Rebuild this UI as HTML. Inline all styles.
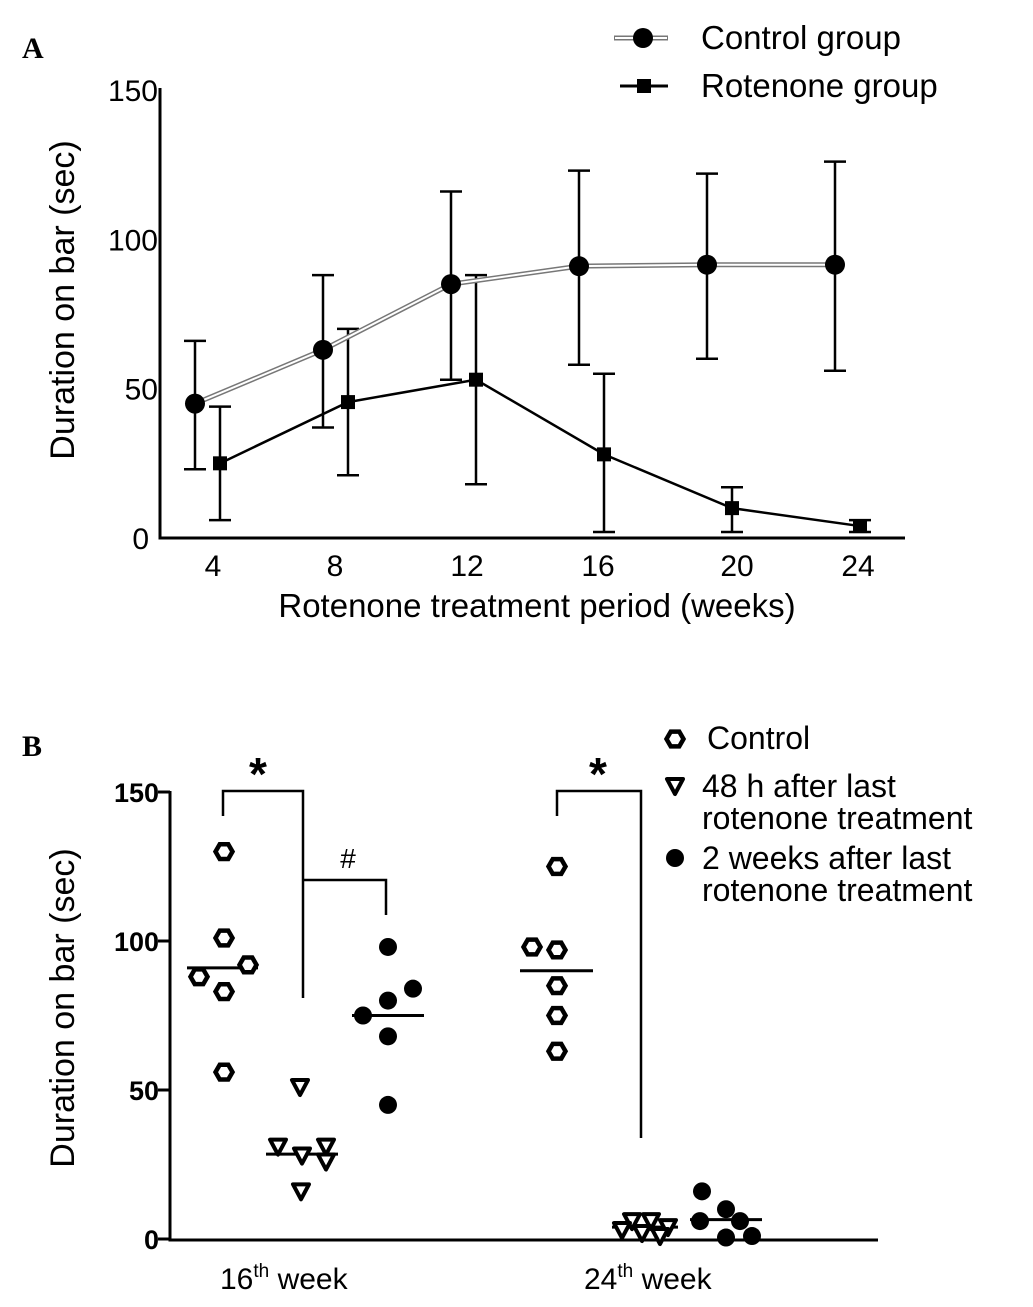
<!DOCTYPE html>
<html><head><meta charset="utf-8"><style>
body{margin:0;background:#fff}
svg{display:block;font-family:"Liberation Sans",sans-serif}
</style></head><body>
<svg id="s" width="1033" height="1307" viewBox="0 0 1033 1307">
<text x="22" y="58" font-family="Liberation Serif" font-weight="bold" font-size="30">A</text>
<text x="22" y="756" font-family="Liberation Serif" font-weight="bold" font-size="30">B</text>
<g id="a"></g>
<g id="b"></g>
</svg>
<script>
// Panel A data
const weeks=["4","8","12","16","20","24"];
const ctrlMean=[45,63,85,91,91.5,91.5];
const ctrlHi=[66,88,116,123,122,126];
const ctrlLo=[23,37,53,58,60,56];
const rotMean=[25,45.5,53,28,10,4];
const rotHi=[44,70,88,55,17,6];
const rotLo=[6,21,18,2,2,2];
const yTicksA=[0,50,100,150];
// Panel B data
const bCtrl16=[130,101,92,88,83,56];
const bTri16=[51,31,28,31,26,16];
const bDot16=[98,84,80,75,68,45];
const bCtrl24=[125,98,97,85,75,63];
const bTri24=[6,6,3,4,2,1];
const bDot24=[16,10,6,6,0.5,1];
const med16=[91,28.5,75];
const med24=[90,4,6.5];
const yTicksB=[0,50,100,150];

const NS="http://www.w3.org/2000/svg";
function mk(p,t,a){const e=document.createElementNS(NS,t);for(const k in a)e.setAttribute(k,a[k]);p.appendChild(e);return e;}
const A=document.getElementById('a'),B=document.getElementById('b');
// ---- Panel A
const yA=v=>538-v*2.987;
const xA=i=>208+128*i;
const labX=[213,335,467,598,737,858];
let e;
e=mk(A,'path',{d:'M160,88 V538 H905',fill:'none',stroke:'#000','stroke-width':3});

yTicksA.forEach(v=>{
 e=mk(A,'text',{x:v===0?149:158,y:yA(v)+11,'text-anchor':'end','font-size':30});e.textContent=v;
 
});
weeks.forEach((w,i)=>{
 e=mk(A,'text',{x:labX[i],y:576,'text-anchor':'middle','font-size':30});e.textContent=w;
 
});
e=mk(A,'text',{x:537,y:617,'text-anchor':'middle','font-size':33});e.textContent='Rotenone treatment period (weeks)';

e=mk(A,'text',{x:0,y:0,'text-anchor':'middle','font-size':34,transform:'translate(74,300) rotate(-90)'});e.textContent='Duration on bar (sec)';

function eb(g,x,lo,hi,name){
 e=mk(g,'path',{d:`M${x},${yA(lo)}V${yA(hi)}M${x-11},${yA(lo)}h22M${x-11},${yA(hi)}h22`,stroke:'#000','stroke-width':2.5,fill:'none'});
 
}
ctrlMean.forEach((v,i)=>eb(A,xA(i)-13,ctrlLo[i],ctrlHi[i],'control-error-bar'));
rotMean.forEach((v,i)=>eb(A,xA(i)+12,rotLo[i],rotHi[i],'rotenone-error-bar'));
const cp=ctrlMean.map((v,i)=>(xA(i)-13)+','+yA(v)).join(' ');
e=mk(A,'polyline',{points:cp,fill:'none',stroke:'#777','stroke-width':5});

e=mk(A,'polyline',{points:cp,fill:'none',stroke:'#fff','stroke-width':2});

const rp=rotMean.map((v,i)=>(xA(i)+12)+','+yA(v)).join(' ');
e=mk(A,'polyline',{points:rp,fill:'none',stroke:'#000','stroke-width':2.5});

ctrlMean.forEach((v,i)=>{e=mk(A,'circle',{cx:xA(i)-13,cy:yA(v),r:10,fill:'#000'});
 });
rotMean.forEach((v,i)=>{e=mk(A,'rect',{x:xA(i)+12-7,y:yA(v)-7,width:14,height:14,fill:'#000'});
 });
// legend A
e=mk(A,'line',{x1:614,x2:668,y1:38,y2:38,stroke:'#777','stroke-width':5});

e=mk(A,'line',{x1:615,x2:667,y1:38,y2:38,stroke:'#fff','stroke-width':2});

e=mk(A,'circle',{cx:643,cy:38,r:10,fill:'#000'});

e=mk(A,'text',{x:701,y:49,'font-size':33});e.textContent='Control group';

e=mk(A,'line',{x1:620,x2:668,y1:86,y2:86,stroke:'#000','stroke-width':3});

e=mk(A,'rect',{x:637,y:79,width:14,height:14,fill:'#000'});

e=mk(A,'text',{x:701,y:97,'font-size':33});e.textContent='Rotenone group';


// ---- Panel B
const yB=v=>1239-v*2.98;
e=mk(B,'path',{d:'M170,791 V1240 H878',fill:'none',stroke:'#000','stroke-width':3});

yTicksB.forEach(v=>{
 e=mk(B,'line',{x1:158,x2:170,y1:yB(v),y2:yB(v),stroke:'#000','stroke-width':3});
 
 e=mk(B,'text',{x:159,y:yB(v)+10,'text-anchor':'end','font-size':27,'font-weight':'bold'});e.textContent=v;
 
});
e=mk(B,'text',{x:0,y:0,'text-anchor':'middle','font-size':34,transform:'translate(74,1008) rotate(-90)'});e.textContent='Duration on bar (sec)';

function wk(x,n){e=mk(B,'text',{x:x,y:1289,'font-size':30});
 e.innerHTML=`${n}<tspan dy="-12" font-size="19">th</tspan><tspan dy="12"> week</tspan>`;
 }
wk(220,'16');wk(584,'24');
const hex=(g,x,y,name)=>{let p=[];for(let k=0;k<6;k++){const a=k*Math.PI/3;p.push((x+8.5*Math.cos(a))+','+(y+8.5*Math.sin(a)));}
 e=mk(g,'polygon',{points:p.join(' '),fill:'#fff',stroke:'#000','stroke-width':4.5});
 };
const tri=(g,x,y,name)=>{e=mk(g,'polygon',{points:`${x-8},${y-7} ${x+8},${y-7} ${x},${y+8}`,fill:'#fff',stroke:'#000','stroke-width':4,'stroke-linejoin':'round'});
 };
const dot=(g,x,y,name)=>{e=mk(g,'circle',{cx:x,cy:y,r:9,fill:'#000'});
 };
const med=(x1,x2,v,name)=>{e=mk(B,'line',{x1:x1,x2:x2,y1:yB(v),y2:yB(v),stroke:'#000','stroke-width':3});
 };
const cx16=[224,224,248,199,224,224], tx16=[300,278,302,326,326,301], dx16=[388,413,388,363,388,388];
const cx24=[557,532,557,557,557,557], tx24=[632,651,622,668,642,660], dx24=[702,726,740,700,726,752];
med(187,258,med16[0],'median-control-16');med(266,338,med16[1],'median-48h-16');med(352,424,med16[2],'median-2wk-16');
med(520,593,med24[0],'median-control-24');med(612,678,med24[1],'median-48h-24');med(690,762,med24[2],'median-2wk-24');
bCtrl16.forEach((v,i)=>hex(B,cx16[i],yB(v),'control-16-point'));
bTri16.forEach((v,i)=>tri(B,tx16[i],yB(v),'48h-16-point'));
bDot16.forEach((v,i)=>dot(B,dx16[i],yB(v),'2wk-16-point'));
bCtrl24.forEach((v,i)=>hex(B,cx24[i],yB(v),'control-24-point'));
bTri24.forEach((v,i)=>tri(B,tx24[i],yB(v),'48h-24-point'));
bDot24.forEach((v,i)=>dot(B,dx24[i],yB(v),'2wk-24-point'));
const br=(d,name)=>{e=mk(B,'path',{d:d,fill:'none',stroke:'#000','stroke-width':2.5});
 };
br('M223,816V791H303V998','significance-bracket-16');
br('M303,880H386V915','hash-bracket-16');
br('M557,816V791H641V1138','significance-bracket-24');
const tx=(x,y,s,t,name)=>{e=mk(B,'text',{x:x,y:y,'text-anchor':'middle','font-size':s,'font-weight':'bold'});e.textContent=t;
 };
tx(258,790,46,'*','star-16');tx(598,790,46,'*','star-24');
e=mk(B,'text',{x:348,y:868,'text-anchor':'middle','font-size':28,'font-family':'Liberation Sans'});e.textContent='#';

// legend B
hex(B,675,739,'legend-control-marker');
e=mk(B,'text',{x:707,y:749,'font-size':32});e.textContent='Control';

tri(B,675,786,'legend-48h-marker');
e=mk(B,'text',{x:702,y:797,'font-size':32});e.textContent='48 h after last';

e=mk(B,'text',{x:702,y:829,'font-size':32});e.textContent='rotenone treatment';

dot(B,675,858,'legend-2wk-marker');
e=mk(B,'text',{x:702,y:869,'font-size':32});e.textContent='2 weeks after last';

e=mk(B,'text',{x:702,y:901,'font-size':32});e.textContent='rotenone treatment';

</script>
</body></html>
